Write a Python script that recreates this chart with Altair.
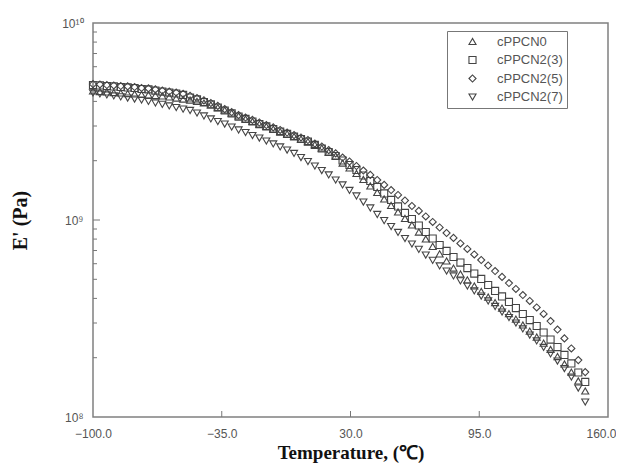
import altair as alt
import pandas as pd

# Temperature grid (°C)
temperature = [-100.0 + 3.5 * i for i in range(72)]

series_names = ["cPPCN0", "cPPCN2(3)", "cPPCN2(5)", "cPPCN2(7)"]

# log10(E' / Pa)
log_cPPCN0 = [9.655, 9.652, 9.650, 9.647, 9.645, 9.642, 9.640, 9.637, 9.635, 9.632,
              9.630, 9.625, 9.619, 9.614, 9.609, 9.602, 9.594, 9.584, 9.571, 9.558,
              9.543, 9.528, 9.513, 9.500, 9.487, 9.475, 9.462, 9.449, 9.437, 9.424,
              9.411, 9.398, 9.383, 9.365, 9.345, 9.325, 9.289, 9.264, 9.236, 9.206,
              9.173, 9.140, 9.107, 9.074, 9.041, 9.008, 8.975, 8.939, 8.904, 8.866,
              8.828, 8.792, 8.756, 8.726, 8.696, 8.665, 8.637, 8.609, 8.581, 8.553,
              8.525, 8.497, 8.467, 8.436, 8.406, 8.375, 8.343, 8.307, 8.269, 8.228,
              8.183, 8.132]
log_cPPCN2_3 = [9.685, 9.683, 9.680, 9.678, 9.675, 9.673, 9.670, 9.665, 9.663, 9.657,
                9.652, 9.647, 9.642, 9.635, 9.622, 9.612, 9.599, 9.587, 9.571, 9.556,
                9.541, 9.525, 9.513, 9.500, 9.487, 9.475, 9.462, 9.449, 9.437, 9.424,
                9.411, 9.398, 9.381, 9.363, 9.345, 9.325, 9.302, 9.279, 9.254, 9.226,
                9.198, 9.168, 9.135, 9.102, 9.069, 9.036, 9.005, 8.972, 8.939, 8.906,
                8.873, 8.843, 8.812, 8.784, 8.756, 8.728, 8.701, 8.670, 8.640, 8.612,
                8.584, 8.553, 8.523, 8.492, 8.462, 8.429, 8.393, 8.355, 8.315, 8.272,
                8.226, 8.178]
log_cPPCN2_5 = [9.690, 9.688, 9.685, 9.683, 9.680, 9.678, 9.675, 9.670, 9.668, 9.663,
                9.657, 9.652, 9.647, 9.640, 9.630, 9.619, 9.607, 9.594, 9.579, 9.563,
                9.548, 9.533, 9.520, 9.508, 9.495, 9.482, 9.470, 9.457, 9.444, 9.431,
                9.419, 9.406, 9.388, 9.373, 9.355, 9.338, 9.317, 9.297, 9.274, 9.251,
                9.229, 9.203, 9.178, 9.152, 9.127, 9.099, 9.071, 9.046, 9.018, 8.990,
                8.962, 8.934, 8.909, 8.881, 8.853, 8.825, 8.797, 8.769, 8.741, 8.711,
                8.680, 8.650, 8.619, 8.589, 8.556, 8.523, 8.487, 8.444, 8.399, 8.348,
                8.289, 8.228]
log_cPPCN2_7 = [9.645, 9.640, 9.635, 9.630, 9.625, 9.619, 9.614, 9.609, 9.602, 9.594,
                9.587, 9.579, 9.571, 9.563, 9.556, 9.543, 9.528, 9.513, 9.500, 9.487,
                9.472, 9.457, 9.444, 9.429, 9.416, 9.401, 9.386, 9.371, 9.355, 9.338,
                9.317, 9.297, 9.274, 9.251, 9.229, 9.203, 9.178, 9.150, 9.122, 9.091,
                9.061, 9.028, 8.997, 8.967, 8.937, 8.906, 8.878, 8.851, 8.822, 8.795,
                8.767, 8.741, 8.716, 8.691, 8.665, 8.640, 8.614, 8.589, 8.561, 8.533,
                8.505, 8.477, 8.447, 8.416, 8.386, 8.353, 8.320, 8.284, 8.246, 8.203,
                8.147, 8.076]

x_tick_values = [-100, -35, 30, 95, 160]
y_tick_values = [1e8, 1e9, 1e10]
y_minor_ticks = [2e8, 3e8, 4e8, 5e8, 6e8, 7e8, 8e8, 9e8,
                 2e9, 3e9, 4e9, 5e9, 6e9, 7e9, 8e9, 9e9]
x_inner_ticks = [-35, 30, 95]

rows = []
for name, logs in zip(series_names,
                      [log_cPPCN0, log_cPPCN2_3, log_cPPCN2_5, log_cPPCN2_7]):
    for t, lv in zip(temperature, logs):
        rows.append({"T": t, "E": 10 ** lv, "sample": name})
df = pd.DataFrame(rows)

xscale = alt.Scale(domain=[-100, 160], nice=False, zero=False)
yscale = alt.Scale(type="log", domain=[1e8, 1e10], nice=False)

GRAY = "#555555"
MARK = "#444444"

points = alt.Chart(df).mark_point(filled=False, size=50, strokeWidth=1.1,
                                  opacity=1, color=MARK).encode(
    x=alt.X("T:Q", scale=xscale,
            axis=alt.Axis(values=x_tick_values, format=".1f", title="Temperature, (℃)",
                          ticks=False, domain=False, grid=False, labelFlush=False,
                          labelOffset={"condition": {"test": "datum.value == 160", "value": -7},
                                       "value": 0},
                          labelPadding=11, titlePadding=4, titleFontSize=19)),
    y=alt.Y("E:Q", scale=yscale,
            axis=alt.Axis(values=y_tick_values, title="E' (Pa)",
                          labelExpr="datum.value >= 5e9 ? '10¹⁰' : (datum.value >= 5e8 ? '10⁹' : '10⁸')",
                          ticks=False, domain=False, grid=False, labelPadding=10,
                          titlePadding=31)),
    shape=alt.Shape("sample:N",
                    scale=alt.Scale(domain=series_names,
                                    range=["triangle-up", "square", "diamond", "triangle-down"]),
                    legend=alt.Legend(title=None, orient="none", legendX=354, legendY=8,
                                      strokeColor="#777777", padding=4, rowPadding=4.5,
                                      labelFont="Liberation Sans", labelFontSize=13,
                                      labelColor=GRAY, symbolStrokeColor=MARK,
                                      symbolSize=50, symbolStrokeWidth=1.1,
                                      symbolOffset=15, labelOffset=18,
                                      fillColor="white")),
)

xt = alt.Chart(pd.DataFrame({"t": x_inner_ticks})).mark_rule(color="#777777", strokeWidth=1).encode(
    x=alt.X("t:Q", scale=xscale), y=alt.value(394), y2=alt.value(388))
ym = alt.Chart(pd.DataFrame({"v": y_minor_ticks})).mark_rule(color="#777777", strokeWidth=1).encode(
    y=alt.Y("v:Q", scale=yscale), x=alt.value(0), x2=alt.value(4))
yM = alt.Chart(pd.DataFrame({"v": [1e9]})).mark_rule(color="#777777", strokeWidth=1).encode(
    y=alt.Y("v:Q", scale=yscale), x=alt.value(0), x2=alt.value(7))

chart = alt.layer(points, xt, ym, yM).properties(
    width=515, height=394,
    autosize=alt.AutoSizeParams(type="none"),
    padding={"left": 85, "top": 15, "right": 8, "bottom": 47},
).configure_view(
    stroke="#808080", strokeWidth=1.5
).configure_axis(
    labelFont="Liberation Sans", labelFontSize=12, labelColor=GRAY,
    titleFont="Liberation Serif", titleFontWeight="bold", titleFontSize=20,
    titleColor="#111111"
)

chart.save("out.html", embed_options={"renderer": "svg", "actions": False})
